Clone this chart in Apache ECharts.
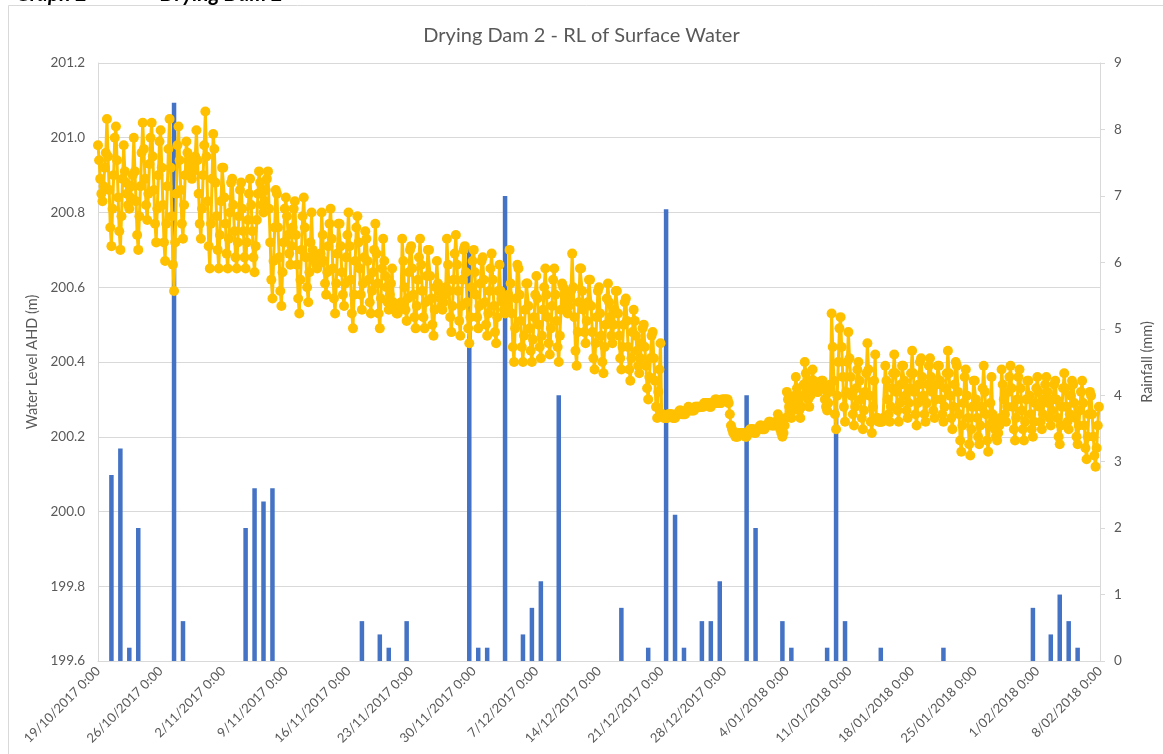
<!DOCTYPE html>
<html><head><meta charset="utf-8">
<script src="https://cdn.jsdelivr.net/npm/echarts@6/dist/echarts.min.js"></script>
<style>html,body{margin:0;padding:0;background:#fff}#c{width:1163px;height:754px}</style>
</head><body><div id="c"></div>
<script>
// ---- axis ranges / ticks ----
const startDate = Date.UTC(2017, 9, 19);   // 19/10/2017 0:00
const endDate = Date.UTC(2018, 1, 8);      // 8/02/2018 0:00
const weekMs = 7 * 86400000;
const levelAxis = [199.6, 201.2, 0.2];
const rainAxis = [0, 9, 1];
const readingHours = [0, 3, 6, 9, 12, 15, 18, 21];

// ---- Water level AHD (m): one row per day, readings at readingHours ----
const levelOct = [ // 19/10 .. 31/10
[200.98,200.94,200.89,200.85,200.83,200.87,200.92,200.96],
[201.05,200.95,200.86,200.76,200.71,200.81,200.90,201.00],
[201.03,200.94,200.84,200.75,200.70,200.79,200.89,200.98],
[200.91,200.88,200.85,200.82,200.81,200.84,200.87,200.90],
[201.00,200.91,200.83,200.74,200.70,200.79,200.87,200.96],
[201.04,200.97,200.89,200.82,200.78,200.85,200.93,201.00],
[201.04,200.95,200.86,200.77,200.72,200.81,200.90,200.99],
[201.02,200.92,200.82,200.72,200.67,200.77,200.87,200.97],
[201.05,200.92,200.79,200.66,200.59,200.72,200.85,200.98],
[201.03,200.94,200.86,200.77,200.73,200.82,200.90,200.99],
[200.96,200.94,200.92,200.90,200.89,200.91,200.93,200.95],
[201.02,200.94,200.85,200.77,200.73,200.81,200.90,200.98],
[201.07,200.95,200.83,200.71,200.65,200.77,200.89,201.01]
];
const levelNov = [
[200.97,200.88,200.79,200.70,200.65,200.74,200.83,200.92],
[200.92,200.84,200.77,200.69,200.65,200.73,200.80,200.88],
[200.89,200.82,200.75,200.68,200.65,200.72,200.79,200.86],
[200.88,200.81,200.75,200.68,200.65,200.72,200.78,200.85],
[200.89,200.82,200.75,200.68,200.64,200.71,200.78,200.85],
[200.91,200.88,200.85,200.82,200.80,200.83,200.86,200.89],
[200.91,200.81,200.72,200.62,200.57,200.67,200.76,200.86],
[200.85,200.76,200.68,200.59,200.55,200.64,200.72,200.81],
[200.84,200.79,200.74,200.69,200.66,200.71,200.76,200.81],
[200.83,200.74,200.66,200.57,200.53,200.62,200.70,200.79],
[200.84,200.76,200.68,200.60,200.56,200.64,200.72,200.80],
[200.70,200.69,200.67,200.66,200.65,200.66,200.68,200.69],
[200.80,200.74,200.67,200.61,200.58,200.64,200.71,200.77],
[200.81,200.73,200.65,200.57,200.53,200.61,200.69,200.77],
[200.77,200.71,200.64,200.58,200.55,200.61,200.68,200.74],
[200.80,200.71,200.62,200.53,200.49,200.58,200.67,200.76],
[200.79,200.72,200.65,200.58,200.54,200.61,200.68,200.75],
[200.73,200.67,200.62,200.56,200.53,200.59,200.64,200.70],
[200.77,200.69,200.61,200.53,200.49,200.57,200.65,200.73],
[200.67,200.63,200.60,200.56,200.54,200.58,200.61,200.65],
[200.56,200.55,200.54,200.53,200.53,200.54,200.55,200.56],
[200.73,200.67,200.60,200.54,200.51,200.57,200.64,200.70],
[200.71,200.65,200.58,200.52,200.49,200.55,200.62,200.68],
[200.73,200.66,200.59,200.52,200.49,200.56,200.63,200.70],
[200.70,200.63,200.57,200.50,200.47,200.54,200.60,200.67],
[200.61,200.59,200.57,200.55,200.54,200.56,200.58,200.60],
[200.73,200.66,200.59,200.52,200.48,200.55,200.62,200.69],
[200.74,200.66,200.59,200.51,200.47,200.55,200.62,200.70],
[200.71,200.64,200.56,200.49,200.45,200.52,200.60,200.67],
[200.70,200.64,200.58,200.52,200.49,200.55,200.61,200.67]
];
const levelDec = [
[200.68,200.62,200.56,200.50,200.47,200.53,200.59,200.65],
[200.69,200.62,200.55,200.48,200.45,200.52,200.59,200.66],
[200.59,200.57,200.56,200.54,200.53,200.55,200.56,200.58],
[200.70,200.61,200.53,200.44,200.40,200.49,200.57,200.66],
[200.65,200.58,200.51,200.44,200.40,200.47,200.54,200.61],
[200.61,200.55,200.49,200.43,200.40,200.46,200.52,200.58],
[200.63,200.57,200.50,200.44,200.41,200.47,200.54,200.60],
[200.65,200.58,200.52,200.45,200.42,200.49,200.55,200.62],
[200.65,200.58,200.51,200.44,200.40,200.47,200.54,200.61],
[200.60,200.58,200.56,200.54,200.53,200.55,200.57,200.59],
[200.69,200.60,200.52,200.43,200.39,200.48,200.56,200.65],
[200.65,200.59,200.54,200.48,200.45,200.51,200.56,200.62],
[200.62,200.55,200.48,200.41,200.38,200.45,200.52,200.59],
[200.60,200.53,200.47,200.40,200.37,200.44,200.50,200.57],
[200.61,200.56,200.52,200.47,200.45,200.50,200.54,200.59],
[200.59,200.53,200.47,200.41,200.38,200.44,200.50,200.56],
[200.57,200.51,200.44,200.38,200.35,200.41,200.48,200.54],
[200.51,200.47,200.43,200.39,200.37,200.41,200.45,200.49],
[200.50,200.44,200.39,200.33,200.30,200.36,200.41,200.47],
[200.48,200.41,200.35,200.28,200.25,200.32,200.38,200.45],
[200.26,200.26,200.25,200.25,200.25,200.25,200.26,200.26],
[200.26,200.26,200.25,200.25,200.25,200.26,200.26,200.26],
[200.27,200.27,200.26,200.26,200.26,200.26,200.27,200.27],
[200.28,200.27,200.27,200.27,200.27,200.27,200.28,200.28],
[200.28,200.28,200.28,200.28,200.28,200.28,200.29,200.29],
[200.29,200.29,200.29,200.28,200.28,200.29,200.29,200.29],
[200.30,200.30,200.29,200.29,200.29,200.29,200.30,200.30],
[200.30,200.30,200.30,200.30,200.29,200.26,200.23,200.22],
[200.21,200.21,200.20,200.20,200.20,200.21,200.21,200.21],
[200.21,200.21,200.21,200.20,200.20,200.21,200.21,200.22],
[200.22,200.22,200.22,200.21,200.21,200.22,200.22,200.22]
];
const levelJan = [
[200.23,200.23,200.22,200.22,200.22,200.23,200.23,200.23],
[200.24,200.24,200.23,200.23,200.23,200.23,200.24,200.24],
[200.26,200.24,200.22,200.21,200.20,200.21,200.23,200.25],
[200.32,200.30,200.28,200.26,200.25,200.27,200.29,200.31],
[200.36,200.33,200.30,200.27,200.25,200.28,200.31,200.34],
[200.40,200.37,200.33,200.30,200.28,200.31,200.35,200.38],
[200.35,200.34,200.33,200.32,200.32,200.33,200.34,200.35],
[200.35,200.33,200.30,200.28,200.27,200.29,200.32,200.34],
[200.53,200.44,200.35,200.26,200.22,200.31,200.40,200.49],
[200.52,200.44,200.36,200.28,200.24,200.32,200.40,200.48],
[200.41,200.36,200.31,200.26,200.23,200.28,200.33,200.38],
[200.40,200.35,200.30,200.25,200.22,200.27,200.32,200.37],
[200.45,200.38,200.31,200.24,200.21,200.28,200.35,200.42],
[200.25,200.25,200.24,200.24,200.24,200.24,200.25,200.25],
[200.39,200.35,200.30,200.26,200.24,200.28,200.33,200.37],
[200.42,200.37,200.32,200.27,200.24,200.29,200.34,200.39],
[200.39,200.35,200.31,200.27,200.25,200.29,200.33,200.37],
[200.43,200.37,200.32,200.26,200.23,200.29,200.34,200.40],
[200.41,200.36,200.31,200.26,200.24,200.29,200.34,200.39],
[200.41,200.36,200.32,200.27,200.25,200.30,200.34,200.39],
[200.39,200.35,200.30,200.26,200.24,200.28,200.33,200.37],
[200.43,200.37,200.31,200.25,200.22,200.28,200.34,200.40],
[200.39,200.32,200.26,200.19,200.16,200.23,200.29,200.36],
[200.38,200.31,200.25,200.18,200.15,200.22,200.28,200.35],
[200.35,200.30,200.25,200.20,200.18,200.23,200.28,200.33],
[200.39,200.32,200.26,200.19,200.16,200.23,200.29,200.36],
[200.26,200.24,200.22,200.20,200.19,200.21,200.23,200.25],
[200.38,200.34,200.30,200.26,200.24,200.28,200.32,200.36],
[200.39,200.33,200.28,200.22,200.19,200.25,200.30,200.36],
[200.38,200.33,200.27,200.22,200.19,200.24,200.30,200.35],
[200.35,200.31,200.26,200.22,200.20,200.24,200.29,200.33]
];
const levelFeb = [ // 1/02 .. 7/02
[200.36,200.32,200.28,200.24,200.22,200.26,200.30,200.34],
[200.36,200.32,200.29,200.25,200.23,200.27,200.30,200.34],
[200.35,200.30,200.25,200.20,200.18,200.23,200.28,200.33],
[200.37,200.33,200.28,200.24,200.22,200.26,200.31,200.35],
[200.34,200.29,200.25,200.20,200.18,200.23,200.27,200.32],
[200.35,200.29,200.23,200.17,200.14,200.20,200.26,200.32],
[200.31,200.26,200.20,200.15,200.12,200.17,200.23,200.28]
];

// ---- Daily rainfall (mm) ----
const rainDates = ['20/10/2017','21/10/2017','22/10/2017','23/10/2017','27/10/2017','28/10/2017',
 '4/11/2017','5/11/2017','6/11/2017','7/11/2017','17/11/2017','19/11/2017','20/11/2017','22/11/2017',
 '29/11/2017','30/11/2017','1/12/2017','3/12/2017','5/12/2017','6/12/2017','7/12/2017','9/12/2017',
 '16/12/2017','19/12/2017','21/12/2017','22/12/2017','23/12/2017','25/12/2017','26/12/2017','27/12/2017',
 '30/12/2017','31/12/2017','3/01/2018','4/01/2018','8/01/2018','9/01/2018','10/01/2018','14/01/2018',
 '21/01/2018','31/01/2018','2/02/2018','3/02/2018','4/02/2018','5/02/2018'];
const rainMm = [2.8,3.2,0.2,2.0,8.4,0.6,
 2.0,2.6,2.4,2.6,0.6,0.4,0.2,0.6,
 6.2,0.2,0.2,7.0,0.4,0.8,1.2,4.0,
 0.8,0.2,6.8,2.2,0.2,0.6,0.6,1.2,
 4.0,2.0,0.6,0.2,0.2,3.8,0.6,0.2,
 0.2,0.8,0.4,1.0,0.6,0.2];

// ---- build series data ----
const DAY = 86400000;
const allDays = [].concat(levelOct, levelNov, levelDec, levelJan, levelFeb);
const levelData = [];
allDays.forEach((row, d) => row.forEach((v, k) => levelData.push([startDate + d * DAY + readingHours[k] * 3600000, v])));
function parseDMY(s) { const p = s.split('/').map(Number); return Date.UTC(p[2], p[1] - 1, p[0]); }
const rainData = rainDates.map((s, i) => [parseDMY(s) + DAY / 2, rainMm[i]]);
function fmtDate(v) {
  const dt = new Date(v);
  return dt.getUTCDate() + '/' + String(dt.getUTCMonth() + 1).padStart(2, '0') + '/' + dt.getUTCFullYear() + ' 0:00';
}

const FONT = 'Lato, "Open Sans", sans-serif';
const GREY = '#595959';
const chart = echarts.init(document.getElementById('c'), null, {renderer: 'canvas'});
chart.setOption({
  animation: false,
  backgroundColor: '#ffffff',
  textStyle: {fontFamily: FONT},
  title: {
    text: 'Drying Dam 2 - RL of Surface Water',
    left: 'center', top: 21,
    textStyle: {fontFamily: FONT, fontSize: 20, fontWeight: 'normal', color: GREY}
  },
  graphic: [
    {type: 'rect', shape: {x: 8.5, y: 5.5, width: 1170, height: 780}, style: {fill: 'none', stroke: '#d9d9d9', lineWidth: 1}, silent: true},
    {type: 'text', left: 16, top: -16, style: {text: 'Graph 2', font: 'italic bold 21px ' + FONT, fill: '#000'}, silent: true},
    {type: 'text', left: 160, top: -16, style: {text: 'Drying Dam 2', font: 'italic bold 21px ' + FONT, fill: '#000'}, silent: true}
  ],
  grid: {left: 98, right: 63, top: 63, bottom: 93, containLabel: false},
  xAxis: {
    type: 'value', min: startDate, max: endDate, interval: weekMs,
    axisLine: {show: true, lineStyle: {color: '#d9d9d9'}},
    axisTick: {show: false},
    splitLine: {show: false},
    axisLabel: {rotate: 45, margin: 8, fontSize: 13, color: GREY, fontFamily: FONT, formatter: fmtDate}
  },
  yAxis: [
    {
      type: 'value', min: levelAxis[0], max: levelAxis[1], interval: levelAxis[2], position: 'left',
      name: 'Water Level AHD (m)', nameLocation: 'middle', nameGap: 47, nameRotate: 90,
      nameTextStyle: {fontSize: 14.5, color: GREY, fontFamily: FONT},
      axisLine: {show: true, lineStyle: {color: '#d9d9d9'}},
      axisTick: {show: false},
      splitLine: {show: true, lineStyle: {color: '#d9d9d9', width: 1}},
      axisLabel: {fontSize: 13.5, color: GREY, margin: 13, fontFamily: FONT, formatter: v => v.toFixed(1)}
    },
    {
      type: 'value', min: rainAxis[0], max: rainAxis[1], interval: rainAxis[2], position: 'right',
      name: 'Rainfall (mm)', nameLocation: 'middle', nameGap: 40, nameRotate: 90,
      nameTextStyle: {fontSize: 14.5, color: GREY, fontFamily: FONT},
      axisLine: {show: true, lineStyle: {color: '#d9d9d9'}},
      axisTick: {show: true, inside: false, length: 5, lineStyle: {color: '#d9d9d9'}},
      splitLine: {show: false},
      axisLabel: {fontSize: 13.5, color: GREY, margin: 14, fontFamily: FONT}
    }
  ],
  series: [
    {
      name: 'Rainfall', type: 'bar', xAxisIndex: 0, yAxisIndex: 1, data: rainData,
      barWidth: 4.5, itemStyle: {color: '#4472C4'}, z: 1
    },
    {
      name: 'Water Level', type: 'line', xAxisIndex: 0, yAxisIndex: 0, data: levelData,
      showSymbol: true, showAllSymbol: true, symbol: 'circle', symbolSize: 10,
      itemStyle: {color: '#FFC000'}, lineStyle: {color: '#FFC000', width: 3}, z: 3
    }
  ]
});
</script></body></html>
